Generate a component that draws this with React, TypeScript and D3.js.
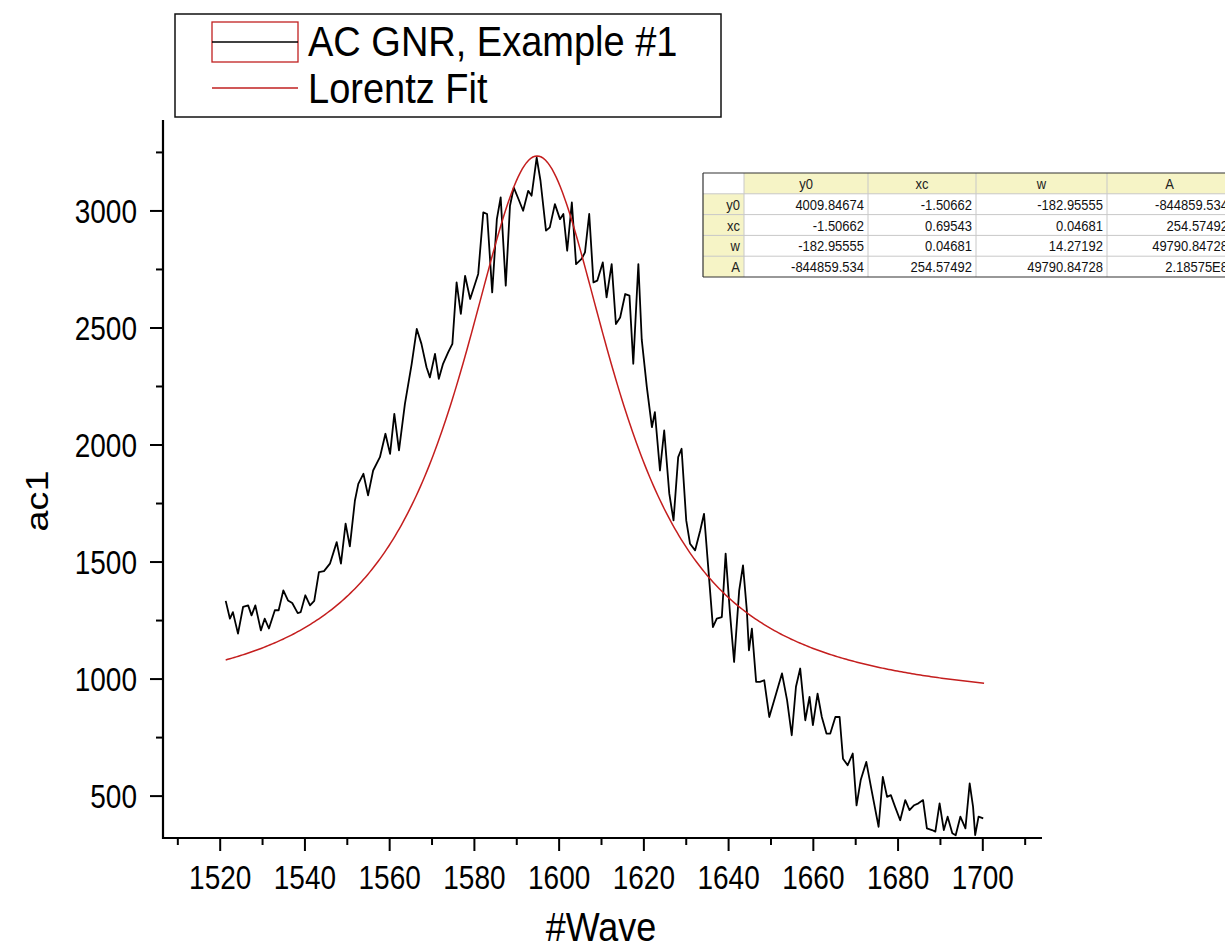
import React from "react";
import * as d3 from "d3";

// ---- data ----
const WAVE = [
  1521.3, 1522.3, 1523.0, 1524.2, 1525.4, 1526.6, 1527.4, 1528.3, 1529.6, 1530.5,
  1531.5, 1532.9, 1533.8, 1534.9, 1536.0, 1537.0, 1538.3, 1539.0, 1540.1, 1541.2,
  1542.2, 1543.3, 1544.5, 1545.9, 1547.5, 1548.5, 1549.6, 1550.6, 1551.8, 1552.6,
  1553.8, 1554.9, 1556.1, 1557.7, 1559.0, 1560.1, 1561.1, 1562.2, 1563.6, 1565.2,
  1566.4, 1567.5, 1568.7, 1569.5, 1570.7, 1571.6, 1572.6, 1573.8, 1574.8, 1575.8,
  1576.8, 1577.8, 1579.0, 1580.9, 1582.1, 1583.0, 1584.2, 1585.3, 1586.2, 1587.4,
  1588.4, 1589.3, 1590.4, 1591.5, 1592.7, 1593.5, 1594.7, 1595.6, 1596.9, 1597.8,
  1599.0, 1600.2, 1601.0, 1601.9, 1603.0, 1604.0, 1605.3, 1606.1, 1607.1, 1608.1,
  1609.0, 1610.3, 1611.2, 1612.4, 1613.4, 1614.4, 1615.6, 1616.6, 1617.5, 1618.7,
  1619.5, 1620.7, 1621.9, 1622.6, 1623.8, 1624.8, 1626.0, 1627.0, 1628.1, 1628.9,
  1630.0, 1630.9, 1632.1, 1633.3, 1634.2, 1635.0, 1636.3, 1637.2, 1638.4, 1639.3,
  1640.3, 1641.3, 1642.5, 1643.4, 1644.3, 1644.8, 1645.5, 1646.5, 1647.4, 1648.4,
  1649.6, 1651.0, 1652.6, 1653.8, 1654.9, 1655.9, 1656.9, 1658.1, 1659.1, 1659.9,
  1661.0, 1662.0, 1663.1, 1664.0, 1665.2, 1666.2, 1667.0, 1668.1, 1669.3, 1670.2,
  1671.2, 1672.5, 1673.8, 1675.4, 1676.4, 1677.4, 1678.3, 1679.3, 1680.5, 1681.7,
  1682.7, 1683.8, 1684.8, 1685.9, 1686.8, 1688.0, 1688.8, 1689.8, 1690.8, 1691.7,
  1692.8, 1693.6, 1694.7, 1695.9, 1696.9, 1697.7, 1698.2, 1699.0, 1700.1,
];
const AC1 = [
  1334, 1258, 1286, 1194, 1308, 1315, 1272, 1315, 1208, 1258,
  1216, 1294, 1294, 1379, 1336, 1325, 1282, 1286, 1358, 1315,
  1334, 1457, 1461, 1493, 1585, 1493, 1664, 1567, 1763, 1834,
  1877, 1785, 1891, 1948, 2048, 1962, 2133, 1977, 2176, 2347,
  2496, 2432, 2332, 2289, 2389, 2283, 2347, 2396, 2432, 2695,
  2560, 2723, 2624, 2731, 2994, 2987, 2652, 2965, 3058, 2681,
  3022, 3100, 3051, 3001, 3086, 3065, 3228, 3129, 2916, 2930,
  3029, 2965, 2987, 2830, 3036, 2773, 2795, 2823, 2987, 2695,
  2702, 2780, 2631, 2773, 2517, 2545, 2645, 2638, 2347, 2773,
  2450, 2247, 2076, 2140, 1891, 2062, 1792, 1678, 1948, 1984,
  1678, 1578, 1550, 1635, 1706, 1521, 1222, 1258, 1265, 1536,
  1287, 1073, 1379, 1486, 1294, 1123, 1215, 988, 988, 995,
  838, 924, 1024, 910, 760, 967, 1045, 824, 924, 803,
  938, 838, 767, 767, 838, 838, 660, 632, 682, 460,
  570, 646, 520, 369, 582, 497, 504, 454, 397, 483,
  440, 461, 469, 483, 362, 355, 348, 469, 355, 412,
  341, 333, 412, 362, 554, 454, 333, 412, 405,
];

// Lorentz fit parameters (y = y0 + 2A/pi * w / (4(x-xc)^2 + w^2))
const FIT_Y0 = 880;
const FIT_XC = 1594.8;
const FIT_W = 45;
const FIT_A = 166470;
const FIT_X_START = 1521.3;
const FIT_X_END = 1700.5;

const X_MAJOR = [1520, 1540, 1560, 1580, 1600, 1620, 1640, 1660, 1680, 1700];
const X_MINOR = [1510, 1530, 1550, 1570, 1590, 1610, 1630, 1650, 1670, 1690, 1710];
const Y_MAJOR = [500, 1000, 1500, 2000, 2500, 3000];
const Y_MINOR = [750, 1250, 1750, 2250, 2750, 3250];

const LEGEND_LABELS = ["AC GNR, Example #1", "Lorentz Fit"];
const X_TITLE = "#Wave";
const Y_TITLE = "ac1";

const TABLE_HEAD = ["y0", "xc", "w", "A"];
const TABLE_ROWS = ["y0", "xc", "w", "A"];
const TABLE_VALUES = [
  ["4009.84674", "-1.50662", "-182.95555", "-844859.534"],
  ["-1.50662", "0.69543", "0.04681", "254.57492"],
  ["-182.95555", "0.04681", "14.27192", "49790.84728"],
  ["-844859.534", "254.57492", "49790.84728", "2.18575E8"],
];

const FONT = "'Liberation Sans', Arial, Helvetica, sans-serif";
const SY = 1.18; // vertical stretch of the reference's lettering

function T(props: {
  x: number;
  y: number;
  size: number;
  anchor?: string;
  dy?: string;
  fill?: string;
  rotate?: number;
  sy?: number;
  children: React.ReactNode;
}) {
  const { x, y, size, anchor = "start", dy, fill = "#000", rotate = 0, sy = SY, children } = props;
  const tr = rotate
    ? `translate(${x},${y}) rotate(${rotate}) scale(${sy},1)`
    : `translate(${x},${y}) scale(1,${sy})`;
  return (
    <text transform={tr} fontSize={size} textAnchor={anchor} dy={dy} fill={fill}>
      {children}
    </text>
  );
}

export default function App() {
  const W = 1225;
  const H = 951;
  const x = d3.scaleLinear().domain([1506.5, 1713.5]).range([163, 1040]);
  const y = d3.scaleLinear().domain([321, 3380]).range([838, 122]);

  const data = WAVE.map((w, i) => [w, AC1[i]] as [number, number]);
  const fitXs = d3.range(FIT_X_START, FIT_X_END + 0.001, 0.5);
  const lor = (xx: number) =>
    FIT_Y0 + ((2 * FIT_A) / Math.PI) * (FIT_W / (4 * (xx - FIT_XC) ** 2 + FIT_W * FIT_W));
  const fit = fitXs.map((xx) => [xx, lor(xx)] as [number, number]);

  const line = d3
    .line<[number, number]>()
    .x((d) => x(d[0]))
    .y((d) => y(d[1]));

  const axX0 = 163;
  const axX1 = 1042;
  const axY0 = 838;
  const axYTop = 120;

  // table geometry
  const tX = 703;
  const tY = 173;
  const rowH = 20.8;
  const colEdges = [703, 744, 868, 976, 1107, 1232];
  const yellow = "#f6f4c6";

  return (
    <div style={{ position: "absolute", left: 0, top: 0 }}>
      <svg width={W} height={H} style={{ display: "block", background: "#fff" }} fontFamily={FONT}>
        <rect x={0} y={0} width={W} height={H} fill="#fff" />

        {/* legend */}
        <rect x={175} y={14} width={546} height={103} fill="#fff" stroke="#111" strokeWidth={1.5} />
        <rect x={212} y={22} width={86} height={40} fill="#fff" stroke="#c02020" strokeWidth={1.3} />
        <line x1={212} x2={298} y1={42} y2={42} stroke="#000" strokeWidth={1.3} />
        <line x1={212} x2={298} y1={88} y2={88} stroke="#c02020" strokeWidth={1.3} />
        <T x={308} y={56} size={38} sy={1.1}>{LEGEND_LABELS[0]}</T>
        <T x={308} y={103} size={38} sy={1.1}>{LEGEND_LABELS[1]}</T>

        {/* fit and data */}
        <path d={line(data) || ""} fill="none" stroke="#000" strokeWidth={1.8} strokeLinejoin="round" />
        <path d={line(fit) || ""} fill="none" stroke="#c41e1e" strokeWidth={1.5} />

        {/* axes */}
        <line x1={axX0} x2={axX0} y1={axYTop} y2={axY0 + 1} stroke="#000" strokeWidth={2.2} />
        <line x1={axX0 - 1} x2={axX1} y1={axY0} y2={axY0} stroke="#000" strokeWidth={2.2} />
        {X_MAJOR.map((t) => (
          <g key={"xm" + t}>
            <line x1={x(t)} x2={x(t)} y1={axY0} y2={axY0 + 13} stroke="#000" strokeWidth={2} />
            <T x={x(t)} y={889} size={28} anchor="middle">{t}</T>
          </g>
        ))}
        {X_MINOR.map((t) => (
          <line key={"xn" + t} x1={x(t)} x2={x(t)} y1={axY0} y2={axY0 + 7} stroke="#000" strokeWidth={2} />
        ))}
        {Y_MAJOR.map((t) => (
          <g key={"ym" + t}>
            <line x1={axX0} x2={axX0 - 13} y1={y(t)} y2={y(t)} stroke="#000" strokeWidth={2} />
            <T x={137} y={y(t)} dy="0.36em" size={28} anchor="end">{t}</T>
          </g>
        ))}
        {Y_MINOR.map((t) => (
          <line key={"yn" + t} x1={axX0} x2={axX0 - 7} y1={y(t)} y2={y(t)} stroke="#000" strokeWidth={2} />
        ))}
        <T x={601} y={941} size={36} sy={1.12} anchor="middle">{X_TITLE}</T>
        <T x={48} y={501} size={32} anchor="middle" rotate={-90}>{Y_TITLE}</T>

        {/* correlation table */}
        <g fontSize={13}>
          <rect x={colEdges[1]} y={tY} width={colEdges[5] - colEdges[1]} height={rowH} fill={yellow} />
          <rect x={tX} y={tY + rowH} width={colEdges[1] - tX} height={rowH * 4} fill={yellow} />
          {[1, 2, 3, 4].map((r) => (
            <line key={"hr" + r} x1={tX} x2={W} y1={tY + r * rowH} y2={tY + r * rowH} stroke="#c8c8c8" strokeWidth={1} />
          ))}
          {colEdges.slice(1, 5).map((c, i) => (
            <line key={"vc" + i} x1={c} x2={c} y1={tY} y2={tY + rowH * 5} stroke="#c8c8c8" strokeWidth={1} />
          ))}
          <line x1={tX} x2={W} y1={tY} y2={tY} stroke="#333" strokeWidth={1.2} />
          <line x1={tX} x2={W} y1={tY + rowH * 5} y2={tY + rowH * 5} stroke="#333" strokeWidth={1.2} />
          <line x1={tX} x2={tX} y1={tY} y2={tY + rowH * 5} stroke="#333" strokeWidth={1.2} />
          {TABLE_HEAD.map((h, i) => (
            <T key={"th" + i} x={(colEdges[i + 1] + colEdges[i + 2]) / 2} y={tY + rowH / 2} dy="0.36em" size={13} anchor="middle" fill="#222">{h}</T>
          ))}
          {TABLE_ROWS.map((r, ri) => (
            <g key={"tr" + ri}>
              <T x={colEdges[1] - 4} y={tY + (ri + 1.5) * rowH} dy="0.36em" size={13} anchor="end" fill="#222">{r}</T>
              {TABLE_VALUES[ri].map((v, ci) => (
                <T key={"tv" + ci} x={colEdges[ci + 2] - 4} y={tY + (ri + 1.5) * rowH} dy="0.36em" size={13} anchor="end" fill="#111">{v}</T>
              ))}
            </g>
          ))}
        </g>
      </svg>
    </div>
  );
}
